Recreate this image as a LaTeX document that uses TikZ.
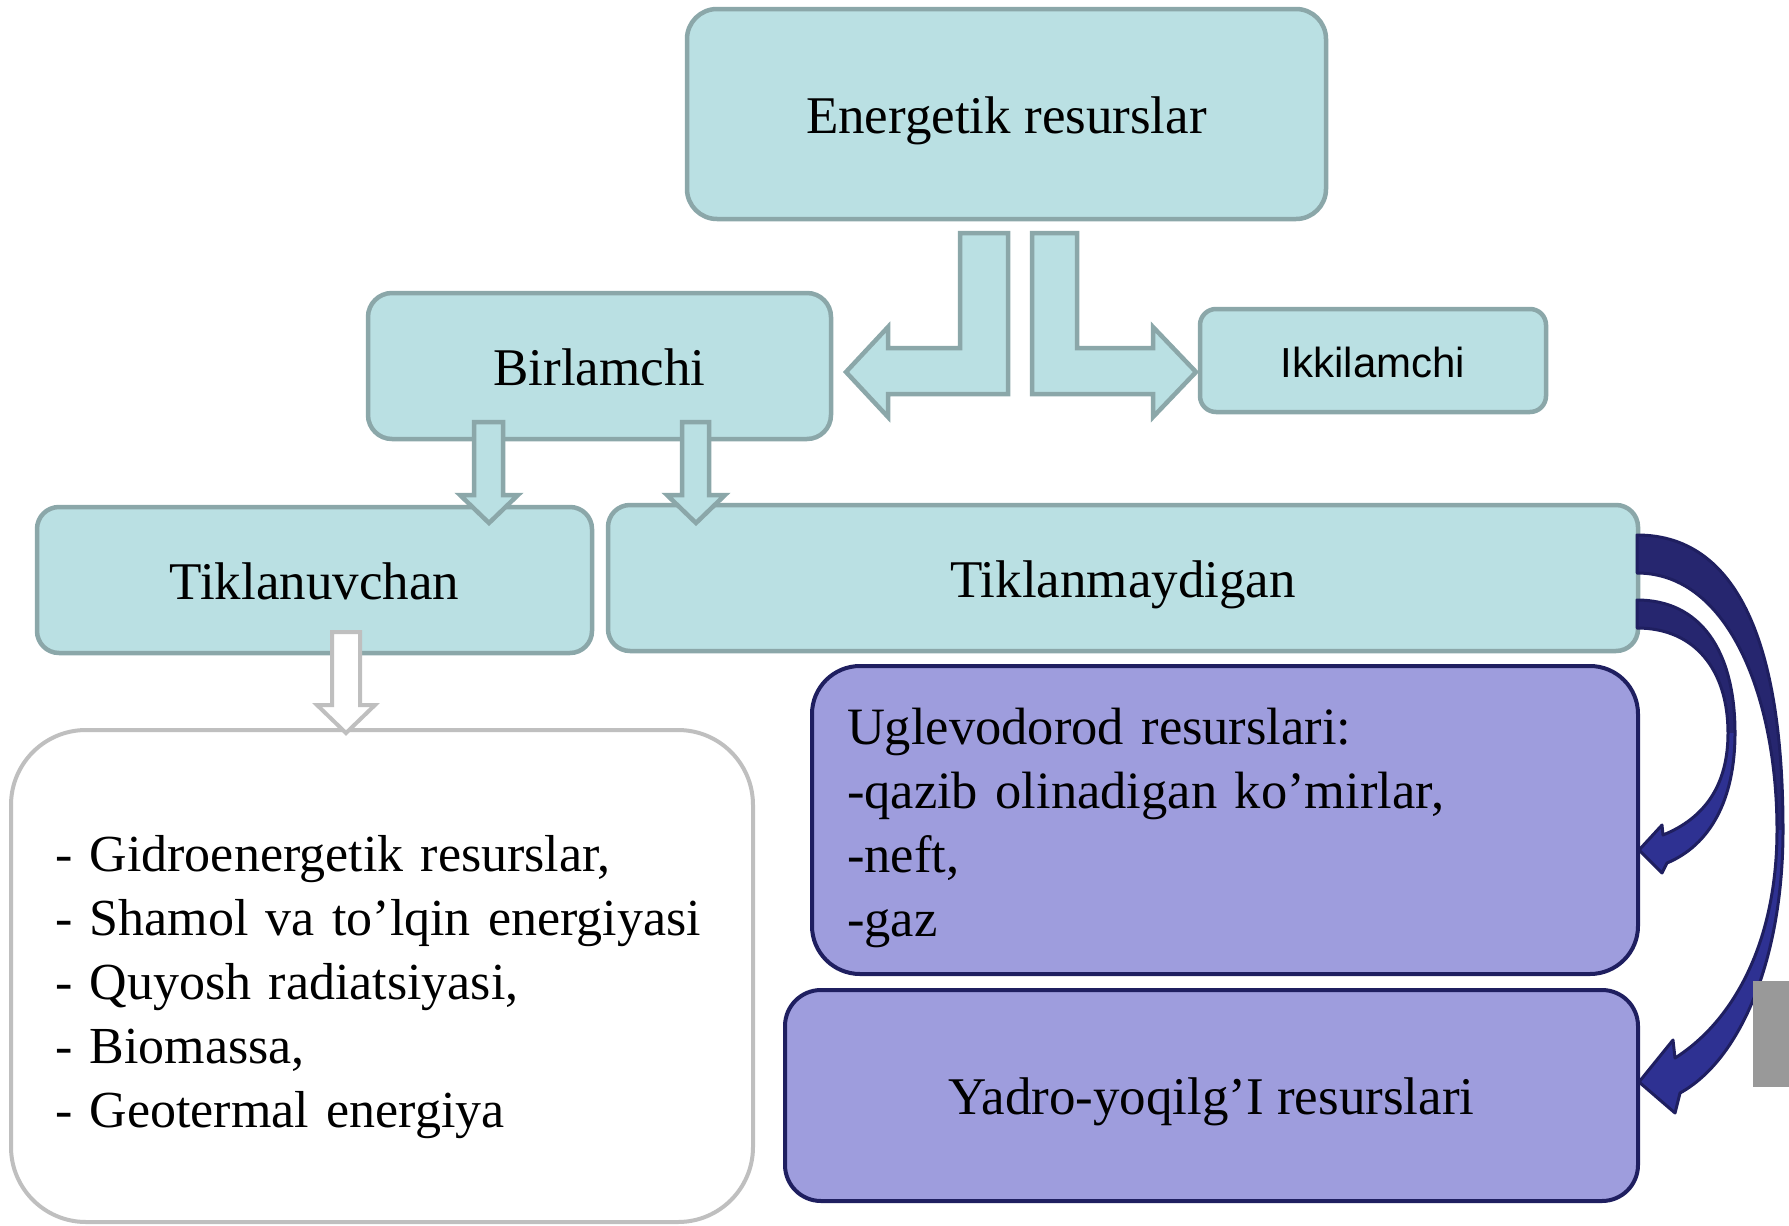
\documentclass[tikz,border=0pt]{standalone}
\usepackage{fontspec}
\setmainfont{Liberation Serif}
\newfontfamily\arialfont{Liberation Sans}

\definecolor{tealfill}{RGB}{186,224,227}
\definecolor{tealline}{RGB}{139,167,169}
\definecolor{lilacfill}{RGB}{158,157,221}
\definecolor{navyline}{RGB}{31,31,96}
\definecolor{navydark}{RGB}{38,38,111}
\definecolor{navylight}{RGB}{46,49,146}
\definecolor{greyline}{RGB}{191,191,191}
\definecolor{greyblock}{RGB}{153,153,153}

\tikzset{
  tealbox/.style={draw=tealline,fill=tealfill,line width=4.5pt,inner sep=0pt,
    text height=38pt,text depth=0pt,font=\fontsize{53}{64}\selectfont},
  lilacbox/.style={draw=navyline,fill=lilacfill,line width=4pt,inner sep=0pt,
    font=\fontsize{53}{64}\selectfont},
  tealarrow/.style={draw=tealline,fill=tealfill,line width=4.5pt,line join=miter},
}

\begin{document}
\begin{tikzpicture}[x=1pt,y=-1pt,line join=round]
  \useasboundingbox (0,0) rectangle (1789,1226);

  % boxes
  \node[tealbox,minimum width=639pt,minimum height=210pt,rounded corners=30pt] (energ) at (1006.5,114) {Energetik resurslar};
  \node[tealbox,minimum width=463pt,minimum height=146pt,rounded corners=24pt] (birl) at (599.5,366) {Birlamchi};
  \node[tealbox,minimum width=346pt,minimum height=103pt,rounded corners=16pt,text height=34pt,
        font=\arialfont\fontsize{42}{50}\selectfont] (ikki) at (1373,360.5) {Ikkilamchi};
  \node[tealbox,minimum width=555pt,minimum height=146pt,rounded corners=22pt] (renew) at (314.5,580) {Tiklanuvchan};
  \node[tealbox,minimum width=1030pt,minimum height=146pt,rounded corners=22pt] (nonrenew) at (1123,578) {Tiklanmaydigan};
  \node[draw=greyline,fill=white,line width=4pt,rounded corners=75pt,inner sep=0pt,
        minimum width=742pt,minimum height=492pt,text width=654pt,text height=59pt,align=left,
        font=\fontsize{52}{64}\selectfont] (list) at (382,976)
    {\mbox{- Gidroenergetik resurslar,}\\
     \mbox{- Shamol va to’lqin energiyasi}\\
     \mbox{- Quyosh radiatsiyasi,}\\
     \mbox{- Biomassa,}\\
     \mbox{- Geotermal energiya}};
  \node[lilacbox,minimum width=826pt,minimum height=308pt,rounded corners=48pt,
        text width=756pt,text height=53pt,align=left,
        font=\fontsize{52.5}{64}\selectfont] (hydro) at (1225,820)
    {\mbox{Uglevodorod resurslari:}\\
     \mbox{-qazib olinadigan ko’mirlar,}\\
     \mbox{-neft,}\\
     \mbox{-gaz}};
  \node[lilacbox,minimum width=853pt,minimum height=211pt,rounded corners=36pt,
        text height=38pt,text depth=0pt] (nuclear) at (1211.5,1095.5) {Yadro-yoqilg’I resurslari};

  % block arrows
  \draw[tealarrow] (1008,233) -- (1008,394) -- (888,394) -- (888,417) -- (846,372)
    -- (888,327) -- (888,348) -- (960,348) -- (960,233) -- cycle;
  \draw[tealarrow] (1032,233) -- (1032,394) -- (1153,394) -- (1153,417) -- (1196,372)
    -- (1153,327) -- (1153,348) -- (1077,348) -- (1077,233) -- cycle;
  \draw[tealarrow] (474,422) -- (503,422) -- (503,495) -- (518,495) -- (489,523)
    -- (460,495) -- (474,495) -- cycle;
  \draw[tealarrow] (682,422) -- (709,422) -- (709,495) -- (725,495) -- (696,523)
    -- (667,495) -- (682,495) -- cycle;
  \draw[draw=greyline,fill=white,line width=4pt,line join=miter] (332,632) -- (360,632)
    -- (360,705) -- (375,705) -- (346,733) -- (317,705) -- (332,705) -- cycle;

  % curved arrows
  \fill[navydark] (1637,535) .. controls (1745,535) and (1783,660) .. (1783,830)
    .. controls (1783,960) and (1740,1060) .. (1680,1093) -- (1675,1113) -- (1639,1082)
    -- (1673,1040) -- (1675,1058) .. controls (1735,1020) and (1777,940) .. (1777,830)
    .. controls (1777,700) and (1730,573) .. (1637,573) -- cycle;
  \fill[navylight] (1783,830) .. controls (1783,960) and (1740,1060) .. (1680,1093)
    -- (1675,1113) -- (1639,1082) -- (1673,1040) -- (1675,1058)
    .. controls (1735,1020) and (1777,940) .. (1777,830) -- cycle;
  \draw[navyline,line width=3pt] (1637,535) .. controls (1745,535) and (1783,660) .. (1783,830)
    .. controls (1783,960) and (1740,1060) .. (1680,1093) -- (1675,1113) -- (1639,1082)
    -- (1673,1040) -- (1675,1058) .. controls (1735,1020) and (1777,940) .. (1777,830)
    .. controls (1777,700) and (1730,573) .. (1637,573) -- cycle;

  \fill[navydark] (1637,600) .. controls (1700,600) and (1735,650) .. (1735,733)
    .. controls (1735,800) and (1710,845) .. (1667,863) -- (1662,873) -- (1639,850)
    -- (1662,825) -- (1663,835) .. controls (1705,818) and (1728,785) .. (1728,733)
    .. controls (1728,670) and (1695,628) .. (1637,628) -- cycle;
  \fill[navylight] (1735,733) .. controls (1735,800) and (1710,845) .. (1667,863)
    -- (1662,873) -- (1639,850) -- (1662,825) -- (1663,835)
    .. controls (1705,818) and (1728,785) .. (1728,733) -- cycle;
  \draw[navyline,line width=3pt] (1637,600) .. controls (1700,600) and (1735,650) .. (1735,733)
    .. controls (1735,800) and (1710,845) .. (1667,863) -- (1662,873) -- (1639,850)
    -- (1662,825) -- (1663,835) .. controls (1705,818) and (1728,785) .. (1728,733)
    .. controls (1728,670) and (1695,628) .. (1637,628) -- cycle;

  \fill[greyblock] (1753,981) rectangle (1789,1087);
\end{tikzpicture}
\end{document}
